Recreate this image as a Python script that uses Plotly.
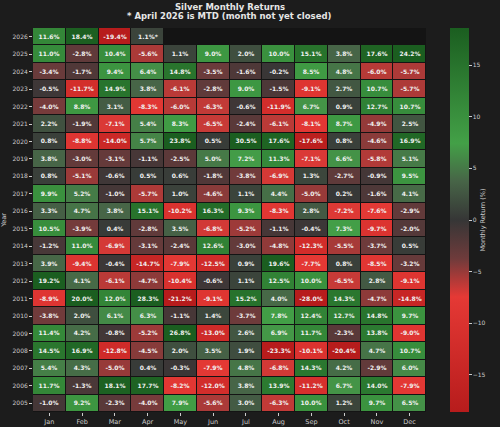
import plotly.graph_objects as go

months = ["Jan", "Feb", "Mar", "Apr", "May", "Jun", "Jul", "Aug", "Sep", "Oct", "Nov", "Dec"]
years = [str(y) for y in range(2026, 2004, -1)]

r2026 = [11.6, 18.4, -19.4, 1.1, None, None, None, None, None, None, None, None]
r2025 = [11.0, -2.8, 10.4, -5.6, 1.1, 9.0, 2.0, 10.0, 15.1, 3.8, 17.6, 24.2]
r2024 = [-3.4, -1.7, 9.4, 6.4, 14.8, -3.5, -1.6, -0.2, 8.5, 4.8, -6.0, -5.7]
r2023 = [-0.5, -11.7, 14.9, 3.8, -6.1, -2.8, 9.0, -1.5, -9.1, 2.7, 10.7, -5.7]
r2022 = [-4.0, 8.8, 3.1, -8.3, -6.0, -6.3, -0.6, -11.9, 6.7, 0.9, 12.7, 10.7]
r2021 = [2.2, -1.9, -7.1, 5.4, 8.3, -6.5, -2.4, -6.1, -8.1, 8.7, -4.9, 2.5]
r2020 = [0.8, -8.8, -14.0, 5.7, 23.8, 0.5, 30.5, 17.6, -17.6, 0.8, -4.6, 16.9]
r2019 = [3.8, -3.0, -3.1, -1.1, -2.5, 5.0, 7.2, 11.3, -7.1, 6.6, -5.8, 5.1]
r2018 = [0.8, -5.1, -0.6, 0.5, 0.6, -1.8, -3.8, -6.9, 1.3, -2.7, -0.9, 9.5]
r2017 = [9.9, 5.2, -1.0, -5.7, 1.0, -4.6, 1.1, 4.4, -5.0, 0.2, -1.6, 4.1]
r2016 = [3.3, 4.7, 3.8, 15.1, -10.2, 16.3, 9.3, -8.3, 2.8, -7.2, -7.6, -2.9]
r2015 = [10.5, -3.9, 0.4, -2.8, 3.5, -6.8, -5.2, -1.1, -0.4, 7.3, -9.7, -2.0]
r2014 = [-1.2, 11.0, -6.9, -3.1, -2.4, 12.6, -3.0, -4.8, -12.3, -5.5, -3.7, 0.5]
r2013 = [3.9, -9.4, -0.4, -14.7, -7.9, -12.5, 0.9, 19.6, -7.7, 0.8, -8.5, -3.2]
r2012 = [19.2, 4.1, -6.1, -4.7, -10.4, -0.6, 1.1, 12.5, 10.0, -6.5, 2.8, -9.1]
r2011 = [-8.9, 20.0, 12.0, 28.3, -21.2, -9.1, 15.2, 4.0, -28.0, 14.3, -4.7, -14.8]
r2010 = [-3.8, 2.0, 6.1, 6.3, -1.1, 1.4, -3.7, 7.8, 12.4, 12.7, 14.8, 9.7]
r2009 = [11.4, 4.2, -0.8, -5.2, 26.8, -13.0, 2.6, 6.9, 11.7, -2.3, 13.8, -9.0]
r2008 = [14.5, 16.9, -12.8, -4.5, 2.0, 3.5, 1.9, -23.3, -10.1, -20.4, 4.7, 10.7]
r2007 = [5.4, 4.3, -5.0, 0.4, -0.3, -7.9, 4.8, -6.8, 14.3, 4.2, -2.9, 6.0]
r2006 = [11.7, -1.3, 18.1, 17.7, -8.2, -12.0, 3.8, 13.9, -11.2, 6.7, 14.0, -7.9]
r2005 = [-1.0, 9.2, -2.3, -4.0, 7.9, -5.6, 3.0, -6.3, 10.0, 1.2, 9.7, 6.5]

z = [r2026, r2025, r2024, r2023, r2022, r2021, r2020, r2019, r2018, r2017, r2016,
     r2015, r2014, r2013, r2012, r2011, r2010, r2009, r2008, r2007, r2006, r2005]

# MTD marker: 2026 April
mtd_year, mtd_month = "2026", "Apr"

text = []
for yi, row in zip(years, z):
    trow = []
    for mi, v in zip(months, row):
        if v is None:
            trow.append("")
        else:
            s = f"{v:.1f}%"
            if yi == mtd_year and mi == mtd_month:
                s += "*"
            trow.append(s)
    text.append(trow)

bg = "#1c1c1c"
fg = "#cccccc"
colorscale = [
    [0.0, "#b71c1c"],
    [0.3, "#e53935"],
    [0.4, "#6e3b3b"],
    [0.5, "#363636"],
    [0.6, "#476447"],
    [0.7, "#43a047"],
    [1.0, "#1b5e20"],
]

fig = go.Figure(go.Heatmap(
    z=z, x=months, y=years,
    text=text, texttemplate="%{text}",
    textfont=dict(family="DejaVu Sans", size=6, color="#f2f2f2", weight="bold"),
    colorscale=colorscale, zmin=-18.6, zmax=18.6,
    xgap=1, ygap=1,
    colorbar=dict(
        x=1.06, xanchor="left", xref="paper",
        y=0.5, yanchor="middle", len=1.0, lenmode="fraction",
        xpad=0, ypad=0,
        thickness=19, outlinewidth=0,
        tickvals=[-15, -10, -5, 0, 5, 10, 15],
        ticks="outside", ticklen=3, tickcolor=fg,
        tickfont=dict(family="DejaVu Sans", size=6, color=fg),
        title=dict(text="Monthly Return (%)", side="right",
                   font=dict(family="DejaVu Sans", size=6.5, color=fg)),
    ),
    hoverongaps=False,
))

fig.update_layout(
    width=500, height=427,
    margin=dict(l=33, r=74, t=28, b=15, autoexpand=False),
    paper_bgcolor=bg, plot_bgcolor="#141414",
    font=dict(family="DejaVu Sans", color=fg),
    annotations=[
        dict(text="<b>Silver Monthly Returns</b>", xref="paper", yref="paper",
             x=0.5, y=1, xanchor="center", yanchor="middle", yshift=21,
             showarrow=False, font=dict(family="DejaVu Sans", size=8.5, color="#e6e6e6")),
        dict(text="<b>* April 2026 is MTD (month not yet closed)</b>", xref="paper", yref="paper",
             x=0.5, y=1, xanchor="center", yanchor="middle", yshift=12,
             showarrow=False, font=dict(family="DejaVu Sans", size=8.5, color="#e6e6e6")),
    ],
)
fig.update_xaxes(
    showgrid=False, zeroline=False, ticks="outside", ticklen=3, tickcolor=fg,
    tickfont=dict(size=6.5, color=fg), automargin=False,
)
fig.update_yaxes(
    showgrid=False, zeroline=False, ticks="outside", ticklen=3, tickcolor=fg,
    tickfont=dict(size=6, color=fg), autorange="reversed", automargin=False,
    title=dict(text="Year", font=dict(size=6.5, color=fg), standoff=6),
)

fig.write_html(
    "out.html",
    config={"displayModeBar": False},
    post_script="document.body.style.margin='0';document.body.style.background='#1c1c1c';",
)
